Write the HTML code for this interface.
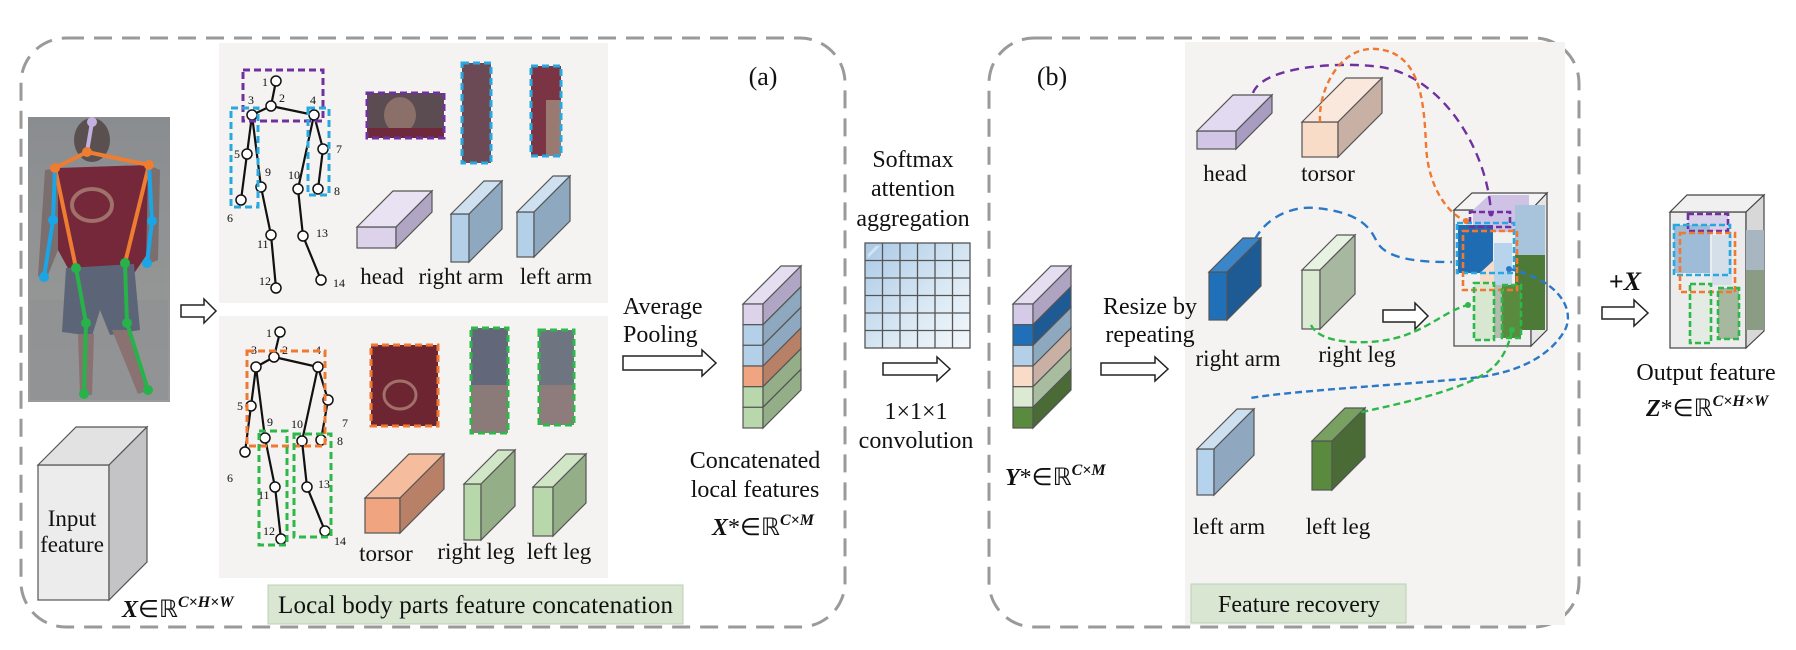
<!DOCTYPE html>
<html><head><meta charset="utf-8"><style>
html,body{margin:0;padding:0;background:#fff;}
svg{display:block;}
text{font-family:"Liberation Serif",serif;fill:#111;}
</style></head><body>
<svg width="1796" height="650" viewBox="0 0 1796 650" xmlns="http://www.w3.org/2000/svg">
<defs>
<linearGradient id="cell" x1="0" y1="0" x2="1" y2="1"><stop offset="0" stop-color="#a9c9e6"/><stop offset="0.6" stop-color="#dbe9f4"/><stop offset="1" stop-color="#f4f8fb"/></linearGradient>
<linearGradient id="bg" x1="0" y1="0" x2="0" y2="1"><stop offset="0" stop-color="#8a8d90"/><stop offset="1" stop-color="#9a9a98"/></linearGradient>
</defs>
<!-- dashed containers -->
<rect x="21" y="38" width="824" height="589" rx="45" fill="none" stroke="#9a9a9a" stroke-width="3" stroke-dasharray="18 10"/>
<rect x="989" y="38" width="590" height="589" rx="45" fill="none" stroke="#9a9a9a" stroke-width="3" stroke-dasharray="18 10"/>
<!-- gray panels -->
<rect x="219" y="43" width="389" height="260" fill="#f4f3f1"/>
<rect x="219" y="316" width="389" height="262" fill="#f4f3f1"/>
<rect x="1185" y="42" width="380" height="583" fill="#f4f3f1"/>
<!-- labels boxes -->
<rect x="268" y="585" width="415" height="39" fill="#d8e6d2" stroke="#bcd0b6"/>
<text x="278" y="613" font-size="25" textLength="395">Local body parts feature concatenation</text>
<rect x="1191" y="584" width="215" height="39" fill="#d8e6d2" stroke="#bcd0b6"/>
<text x="1299" y="612" font-size="24" text-anchor="middle">Feature recovery</text>
<text x="763" y="85" font-size="26" text-anchor="middle">(a)</text>
<text x="1052" y="85" font-size="26" text-anchor="middle">(b)</text>

<!-- photo -->
<rect x="28" y="117" width="142" height="285" fill="url(#bg)"/>
<rect x="30" y="300" width="138" height="100" fill="#8e9092" opacity="0.6"/>
<ellipse cx="92" cy="140" rx="18" ry="22" fill="#5a5050"/>
<path d="M58 168 L148 165 L150 250 L135 272 L70 272 L58 250 Z" fill="#74283a"/>
<ellipse cx="92" cy="205" rx="20" ry="16" fill="none" stroke="#a0706a" stroke-width="4"/>
<path d="M66 268 L134 264 L140 330 L110 335 L100 310 L92 336 L62 332 Z" fill="#5c6478"/>
<path d="M78 334 L94 334 L92 395 L80 395 Z M112 330 L130 330 L150 390 L138 394 Z" fill="#8a7272"/>
<path d="M45 170 L58 168 L58 250 L46 280 L38 276 Z M148 165 L160 170 L158 260 L146 265 Z" fill="#7a6e6e"/>
<g stroke-width="4" fill="none">
<line x1="92" y1="122" x2="87" y2="152" stroke="#c4b0e0"/>
<polyline points="55,168 87,152 149,165" stroke="#ee7d31"/>
<line x1="55" y1="168" x2="76" y2="268" stroke="#ee7d31"/>
<line x1="149" y1="165" x2="125" y2="263" stroke="#ee7d31"/>
<polyline points="55,168 53,220 44,277" stroke="#1aa5e6"/>
<polyline points="149,165 152,221 147,263" stroke="#1aa5e6"/>
<polyline points="76,268 86,323 84,394" stroke="#27b24a"/>
<polyline points="125,263 127,323 148,390" stroke="#27b24a"/>
</g>
<g>
<circle cx="92" cy="122" r="5" fill="#c4b0e0"/>
<circle cx="87" cy="152" r="5" fill="#ee7d31"/><circle cx="55" cy="168" r="5" fill="#ee7d31"/><circle cx="149" cy="165" r="5" fill="#ee7d31"/>
<circle cx="53" cy="220" r="5" fill="#1aa5e6"/><circle cx="44" cy="277" r="5" fill="#1aa5e6"/><circle cx="152" cy="221" r="5" fill="#1aa5e6"/><circle cx="147" cy="263" r="5" fill="#1aa5e6"/>
<circle cx="76" cy="268" r="5" fill="#27b24a"/><circle cx="125" cy="263" r="5" fill="#27b24a"/><circle cx="86" cy="323" r="5" fill="#27b24a"/><circle cx="127" cy="323" r="5" fill="#27b24a"/><circle cx="84" cy="394" r="5" fill="#27b24a"/><circle cx="148" cy="390" r="5" fill="#27b24a"/>
</g>

<!-- input cube -->
<g stroke="#555" stroke-width="1.2">
<rect x="38" y="465" width="71" height="135" fill="#ececec"/>
<polygon points="38,465 76,427 147,427 109,465" fill="#e2e2e2"/>
<polygon points="109,465 147,427 147,562 109,600" fill="#c4c4c6"/>
</g>
<text x="72" y="526" font-size="23" text-anchor="middle">Input</text>
<text x="72" y="552" font-size="23" text-anchor="middle">feature</text>
<text x="122" y="617" font-size="24"><tspan font-weight="bold" font-style="italic">X</tspan>∈ℝ<tspan font-size="16" dy="-10" font-weight="bold" font-style="italic">C×H×W</tspan></text>

<!-- hollow arrows -->
<g fill="#fff" stroke="#222" stroke-width="1.5">
<polygon points="181,305 204,305 204,299 216,311 204,323 204,317 181,317"/>
<polygon points="623,356 702,356 702,350 716,363 702,376 702,370 623,370"/>
<polygon points="883,363 937,363 937,357 950,369 937,381 937,375 883,375"/>
<polygon points="1101,363 1155,363 1155,357 1168,369 1155,381 1155,375 1101,375"/>
<polygon points="1383,310 1415,310 1415,303 1428,316 1415,329 1415,322 1383,322"/>
<polygon points="1602,307 1634,307 1634,300 1648,313 1634,326 1634,319 1602,319"/>
</g>

<!-- top skeleton -->
<g stroke="#111" stroke-width="2.2" fill="none">
<polyline points="276,81 271,106 252,115 247,154 241,200"/>
<polyline points="252,115 261,187 271,235 276,288"/>
<polyline points="271,106 314,115 298,189 303,236 321,280"/>
<polyline points="314,115 323,149 318,189"/>
</g>
<g fill="#fff" stroke="#111" stroke-width="1.5">
<circle cx="276" cy="81" r="5"/><circle cx="271" cy="106" r="5"/><circle cx="252" cy="115" r="5"/><circle cx="314" cy="115" r="5"/><circle cx="247" cy="154" r="5"/><circle cx="261" cy="187" r="5"/><circle cx="298" cy="189" r="5"/><circle cx="323" cy="149" r="5"/><circle cx="318" cy="189" r="5"/><circle cx="241" cy="200" r="5"/><circle cx="271" cy="235" r="5"/><circle cx="303" cy="236" r="5"/><circle cx="276" cy="288" r="5"/><circle cx="321" cy="280" r="5"/>
</g>
<g font-size="12">
<text x="262" y="86">1</text><text x="279" y="102">2</text><text x="248" y="104">3</text><text x="310" y="104">4</text><text x="234" y="158">5</text><text x="336" y="153">7</text><text x="265" y="176">9</text><text x="288" y="179">10</text><text x="334" y="195">8</text><text x="227" y="222">6</text><text x="257" y="248">11</text><text x="316" y="237">13</text><text x="259" y="285">12</text><text x="333" y="287">14</text>
</g>
<g fill="none" stroke-width="3" stroke-dasharray="7 4">
<rect x="243" y="70" width="80" height="51" stroke="#7030a0"/>
<rect x="231" y="108" width="27" height="99" stroke="#29a8e0"/>
<rect x="308" y="108" width="21" height="87" stroke="#29a8e0"/>
</g>
<!-- top crops -->
<rect x="367" y="93" width="77" height="45" fill="#5b4c52"/>
<ellipse cx="400" cy="115" rx="16" ry="18" fill="#8a7068"/>
<rect x="367" y="128" width="77" height="10" fill="#6e2a3a"/>
<rect x="462" y="63" width="29" height="100" fill="#6b4a55"/>
<rect x="531" y="66" width="30" height="90" fill="#7a3444"/>
<rect x="546" y="100" width="15" height="56" fill="#9a7a70"/>
<g fill="none" stroke-width="3" stroke-dasharray="7 4">
<rect x="367" y="93" width="77" height="45" stroke="#7030a0"/>
<rect x="462" y="63" width="29" height="100" stroke="#29a8e0"/>
<rect x="531" y="66" width="30" height="90" stroke="#29a8e0"/>
</g>
<!-- top cubes -->
<g stroke="#555" stroke-width="1.2">
<rect x="357" y="227" width="39" height="21" fill="#dcd3ea"/>
<polygon points="357,227 393,191 432,191 396,227" fill="#e8e2f2"/>
<polygon points="396,227 432,191 432,212 396,248" fill="#b0a6c4"/>
<rect x="451" y="214" width="18" height="48" fill="#b4d0e8"/>
<polygon points="451,214 484,181 502,181 469,214" fill="#cfe1f1"/>
<polygon points="469,214 502,181 502,229 469,262" fill="#8ea8c0"/>
<rect x="517" y="212" width="17" height="45" fill="#b4d0e8"/>
<polygon points="517,212 553,176 570,176 534,212" fill="#cfe1f1"/>
<polygon points="534,212 570,176 570,221 534,257" fill="#8ea8c0"/>
</g>
<g font-size="23" text-anchor="middle">
<text x="382" y="284">head</text><text x="461" y="284">right  arm</text><text x="556" y="284">left  arm</text>
</g>

<!-- bottom skeleton -->
<g stroke="#111" stroke-width="2.2" fill="none">
<polyline points="280,332 274,357 256,367 251,406 245,452"/>
<polyline points="256,367 265,438 275,487 281,539"/>
<polyline points="274,357 318,367 302,441 307,487 325,531"/>
<polyline points="318,367 328,400 321,440"/>
</g>
<g fill="#fff" stroke="#111" stroke-width="1.5">
<circle cx="280" cy="332" r="5"/><circle cx="274" cy="357" r="5"/><circle cx="256" cy="367" r="5"/><circle cx="318" cy="367" r="5"/><circle cx="251" cy="406" r="5"/><circle cx="245" cy="452" r="5"/><circle cx="265" cy="438" r="5"/><circle cx="302" cy="441" r="5"/><circle cx="328" cy="400" r="5"/><circle cx="321" cy="440" r="5"/><circle cx="275" cy="487" r="5"/><circle cx="307" cy="487" r="5"/><circle cx="281" cy="539" r="5"/><circle cx="325" cy="531" r="5"/>
</g>
<g font-size="12">
<text x="266" y="337">1</text><text x="282" y="354">2</text><text x="251" y="354">3</text><text x="315" y="354">4</text><text x="237" y="410">5</text><text x="342" y="427">7</text><text x="267" y="426">9</text><text x="291" y="428">10</text><text x="337" y="445">8</text><text x="227" y="482">6</text><text x="258" y="499">11</text><text x="318" y="488">13</text><text x="263" y="535">12</text><text x="334" y="545">14</text>
</g>
<g fill="none" stroke-width="3" stroke-dasharray="7 4">
<rect x="247" y="351" width="78" height="95" stroke="#f07830"/>
<rect x="259" y="431" width="28" height="114" stroke="#2eb84a"/>
<rect x="294" y="434" width="37" height="103" stroke="#2eb84a"/>
</g>
<rect x="371" y="345" width="67" height="81" fill="#6e2532"/>
<ellipse cx="400" cy="395" rx="16" ry="14" fill="none" stroke="#a0706a" stroke-width="3"/>
<rect x="471" y="328" width="37" height="105" fill="#62687a"/>
<rect x="471" y="385" width="37" height="48" fill="#8a7a78"/>
<rect x="539" y="330" width="35" height="95" fill="#6e7480"/>
<rect x="539" y="385" width="35" height="40" fill="#8e7c7c"/>
<g fill="none" stroke-width="3" stroke-dasharray="7 4">
<rect x="371" y="345" width="67" height="81" stroke="#f07830"/>
<rect x="471" y="328" width="37" height="105" stroke="#2eb84a"/>
<rect x="539" y="330" width="35" height="95" stroke="#2eb84a"/>
</g>
<g stroke="#555" stroke-width="1.2">
<rect x="365" y="498" width="35" height="35" fill="#f0a580"/>
<polygon points="365,498 409,454 444,454 400,498" fill="#f5bd9e"/>
<polygon points="400,498 444,454 444,489 400,533" fill="#b98068"/>
<rect x="464" y="484" width="17" height="56" fill="#b8d8ac"/>
<polygon points="464,484 498,450 515,450 481,484" fill="#d0e6c6"/>
<polygon points="481,484 515,450 515,506 481,540" fill="#94ae88"/>
<rect x="533" y="487" width="20" height="49" fill="#b8d8ac"/>
<polygon points="533,487 566,454 586,454 553,487" fill="#d0e6c6"/>
<polygon points="553,487 586,454 586,503 553,536" fill="#94ae88"/>
</g>
<g font-size="23" text-anchor="middle">
<text x="386" y="561">torsor</text><text x="476" y="559">right  leg</text><text x="559" y="559">left  leg</text>
</g>

<!-- average pooling -->
<text x="623" y="314" font-size="24">Average</text>
<text x="623" y="342" font-size="24">Pooling</text>
<!-- X stack -->
<g stroke="#555" stroke-width="1.2">
<polygon points="743,304 781,266 801,266 763,304" fill="#e4def0"/>
<rect x="743" y="304" width="20" height="20.7" fill="#dcd3ea"/><polygon points="763,304 801,266 801,286.7 763,324.7" fill="#b0a6c4"/>
<rect x="743" y="324.7" width="20" height="20.7" fill="#b4d0e8"/><polygon points="763,324.7 801,286.7 801,307.3 763,345.3" fill="#8ea8c0"/>
<rect x="743" y="345.3" width="20" height="20.7" fill="#b4d0e8"/><polygon points="763,345.3 801,307.3 801,328 763,366" fill="#8ea8c0"/>
<rect x="743" y="366" width="20" height="20.7" fill="#f0a580"/><polygon points="763,366 801,328 801,348.7 763,386.7" fill="#b98068"/>
<rect x="743" y="386.7" width="20" height="20.7" fill="#b8d8ac"/><polygon points="763,386.7 801,348.7 801,369.3 763,407.3" fill="#94ae88"/>
<rect x="743" y="407.3" width="20" height="20.7" fill="#b8d8ac"/><polygon points="763,407.3 801,369.3 801,390 763,428" fill="#94ae88"/>
</g>
<g font-size="24" text-anchor="middle">
<text x="755" y="468">Concatenated</text>
<text x="755" y="497">local  features</text>
</g>
<text x="712" y="535" font-size="24"><tspan font-weight="bold" font-style="italic">X</tspan>*∈ℝ<tspan font-size="16" dy="-10" font-weight="bold" font-style="italic">C×M</tspan></text>

<!-- softmax -->
<g font-size="24" text-anchor="middle">
<text x="913" y="167">Softmax</text><text x="913" y="196">attention</text><text x="913" y="226">aggregation</text>
<text x="916" y="419">1×1×1</text><text x="916" y="448">convolution</text>
</g>
<g stroke="#555" stroke-width="1.3">
<rect x="865" y="243" width="105" height="105" fill="url(#cell)"/>
</g>
<g stroke="#555" stroke-width="1.3" fill="none">
<path d="M882.5 243V348M900 243V348M917.5 243V348M935 243V348M952.5 243V348M865 260.5H970M865 278H970M865 295.5H970M865 313H970M865 330.5H970"/>
</g>
<g fill="#fff" opacity="0.45">
<path d="M868 258 l12 -12 h-4 l-8 8z"/>
</g>

<!-- Y stack -->
<g stroke="#555" stroke-width="1.2">
<polygon points="1013,304 1051,266 1071,266 1033,304" fill="#e4def0"/>
<rect x="1013" y="304" width="20" height="20.7" fill="#d5cae8"/><polygon points="1033,304 1071,266 1071,286.7 1033,324.7" fill="#aea4c2"/>
<rect x="1013" y="324.7" width="20" height="20.7" fill="#1f70b8"/><polygon points="1033,324.7 1071,286.7 1071,307.3 1033,345.3" fill="#1e5a94"/>
<rect x="1013" y="345.3" width="20" height="20.7" fill="#b4d0e8"/><polygon points="1033,345.3 1071,307.3 1071,328 1033,366" fill="#8ea8c0"/>
<rect x="1013" y="366" width="20" height="20.7" fill="#f8dcc8"/><polygon points="1033,366 1071,328 1071,348.7 1033,386.7" fill="#c8b0a4"/>
<rect x="1013" y="386.7" width="20" height="20.7" fill="#dcead4"/><polygon points="1033,386.7 1071,348.7 1071,369.3 1033,407.3" fill="#a8bca0"/>
<rect x="1013" y="407.3" width="20" height="20.7" fill="#5a8a3e"/><polygon points="1033,407.3 1071,369.3 1071,390 1033,428" fill="#4a6a36"/>
</g>
<text x="1005" y="485" font-size="24"><tspan font-weight="bold" font-style="italic">Y</tspan>*∈ℝ<tspan font-size="16" dy="-10" font-weight="bold" font-style="italic">C×M</tspan></text>
<g font-size="24" text-anchor="middle">
<text x="1150" y="314">Resize  by</text><text x="1150" y="342">repeating</text>
</g>

<!-- B cubes -->
<g stroke="#555" stroke-width="1.2">
<rect x="1197" y="131" width="39" height="18" fill="#d2c6e6"/>
<polygon points="1197,131 1233,95 1272,95 1236,131" fill="#e2daf0"/>
<polygon points="1236,131 1272,95 1272,113 1236,149" fill="#a89cc0"/>
<rect x="1302" y="122" width="36" height="35" fill="#f8dcc8"/>
<polygon points="1302,122 1346,78 1382,78 1338,122" fill="#fbe8dc"/>
<polygon points="1338,122 1382,78 1382,113 1338,157" fill="#c8b0a4"/>
<rect x="1209" y="272" width="18" height="48" fill="#1f70b8"/>
<polygon points="1209,272 1243,238 1261,238 1227,272" fill="#3a86c8"/>
<polygon points="1227,272 1261,238 1261,286 1227,320" fill="#1e5a94"/>
<rect x="1302" y="270" width="18" height="59" fill="#dcead4"/>
<polygon points="1302,270 1337,235 1355,235 1320,270" fill="#e8f2e2"/>
<polygon points="1320,270 1355,235 1355,294 1320,329" fill="#a8b8a0"/>
<rect x="1197" y="449" width="17" height="46" fill="#b5d3ec"/>
<polygon points="1197,449 1237,409 1254,409 1214,449" fill="#cde0f0"/>
<polygon points="1214,449 1254,409 1254,455 1214,495" fill="#8fa8c0"/>
<rect x="1312" y="441" width="20" height="49" fill="#5a8a3e"/>
<polygon points="1312,441 1345,408 1365,408 1332,441" fill="#78a060"/>
<polygon points="1332,441 1365,408 1365,457 1332,490" fill="#4a6a36"/>
</g>
<g font-size="23" text-anchor="middle">
<text x="1225" y="181">head</text><text x="1328" y="181">torsor</text>
<text x="1238" y="366">right  arm</text><text x="1357" y="362">right  leg</text>
<text x="1229" y="534">left  arm</text><text x="1338" y="534">left  leg</text>
</g>

<!-- composite block -->
<g>
<rect x="1454" y="210" width="77" height="136" fill="#f0f0f0" stroke="#444" stroke-width="1.2"/>
<polygon points="1454,210 1472,193 1547,193 1531,210" fill="#f4f4f4" stroke="#444" stroke-width="1.2"/>
<polygon points="1531,210 1547,193 1547,330 1531,346" fill="#e6e6e6" stroke="#444" stroke-width="1.2"/>
<polygon points="1473,210 1489,195 1529,195 1529,225 1513,232 1473,232" fill="#cfc2e4"/>
<rect x="1515" y="205" width="30" height="52" fill="#a8c4dc"/>
<rect x="1515" y="255" width="30" height="75" fill="#4e7a38"/>
<rect x="1458" y="225" width="35" height="48" fill="#1f6cb2"/>
<polygon points="1480,273 1494,260 1494,287 1480,287" fill="#f6dccb"/>
<rect x="1494" y="243" width="18" height="45" fill="#b8d4ec"/>
<rect x="1474" y="285" width="20" height="55" fill="#d8e8d0"/>
<rect x="1494" y="285" width="8" height="53" fill="#b4bcb0"/>
<rect x="1502" y="285" width="19" height="53" fill="#5a8a3e"/>
<g fill="none" stroke-width="2.6" stroke-dasharray="6 3">
<rect x="1470" y="212" width="40" height="15" stroke="#7030a0"/>
<rect x="1457" y="223" width="57" height="50" stroke="#29a8e0"/>
<rect x="1463" y="231" width="54" height="59" stroke="#f07830"/>
<rect x="1474" y="283" width="20" height="57" stroke="#2eb84a"/>
<rect x="1502" y="285" width="19" height="53" stroke="#2eb84a"/>
</g>
</g>
<!-- connectors -->
<g fill="none" stroke-width="2.4" stroke-dasharray="9 6">
<path d="M1253 93 C1262 68 1330 62 1372 66 C1440 70 1488 150 1491 214" stroke="#7030a0"/>
<path d="M1320 122 C1318 90 1340 46 1376 49 C1420 52 1424 100 1426 145 C1428 190 1450 215 1466 221" stroke="#f07830" stroke-dasharray="6 4"/>
<path d="M1255 239 C1270 212 1300 206 1315 208 C1360 212 1370 228 1376 240 C1385 262 1430 262 1452 262" stroke="#2a78c8"/>
<path d="M1311 325 C1318 340 1345 343 1368 342 C1420 340 1440 312 1468 305" stroke="#2eb84a" stroke-dasharray="7 4"/>
<path d="M1509 269 C1560 280 1575 310 1565 330 C1545 365 1500 375 1472 378 C1400 385 1300 390 1250 398" stroke="#2a78c8" stroke-dasharray="7 4"/>
<path d="M1512 330 C1508 350 1500 362 1490 370 C1470 386 1420 400 1357 413" stroke="#2eb84a" stroke-dasharray="7 4"/>
</g>
<g>
<circle cx="1491" cy="214" r="2.5" fill="#7030a0"/><circle cx="1466" cy="221" r="3" fill="#f07830"/><circle cx="1509" cy="269" r="3" fill="#2a78c8"/><circle cx="1468" cy="305" r="3" fill="#2eb84a"/><circle cx="1512" cy="330" r="3" fill="#2eb84a"/>
</g>

<!-- output block -->
<text x="1625" y="290" font-size="26" text-anchor="middle" font-weight="bold"><tspan font-weight="bold">+</tspan><tspan font-style="italic">X</tspan></text>
<rect x="1670" y="212" width="76" height="136" fill="#ececec" stroke="#444" stroke-width="1.2"/>
<polygon points="1670,212 1687,195 1764,195 1746,212" fill="#f0f0f0" stroke="#444" stroke-width="1.2"/>
<polygon points="1746,212 1764,195 1764,331 1746,348" fill="#d8d8d8" stroke="#444" stroke-width="1.2"/>
<rect x="1688" y="214" width="40" height="17" fill="#d8d0e8"/>
<rect x="1674" y="225" width="36" height="48" fill="#9ebcd8"/>
<rect x="1712" y="235" width="20" height="50" fill="#d4dfea"/>
<rect x="1746" y="230" width="18" height="40" fill="#a8b6c2"/>
<rect x="1746" y="270" width="18" height="60" fill="#8a9c84"/>
<rect x="1690" y="284" width="21" height="59" fill="#e4ebe2"/>
<rect x="1718" y="288" width="21" height="51" fill="#a6b8a0"/>
<g fill="none" stroke-width="2.6" stroke-dasharray="6 3">
<rect x="1688" y="214" width="40" height="17" stroke="#7030a0"/>
<rect x="1674" y="225" width="56" height="50" stroke="#29a8e0"/>
<rect x="1680" y="233" width="55" height="59" stroke="#f07830"/>
<rect x="1690" y="284" width="21" height="59" stroke="#2eb84a"/>
<rect x="1718" y="288" width="21" height="51" stroke="#2eb84a"/>
</g>
<text x="1706" y="380" font-size="24" text-anchor="middle">Output  feature</text>
<text x="1646" y="416" font-size="24"><tspan font-weight="bold" font-style="italic">Z</tspan>*∈ℝ<tspan font-size="16" dy="-10" font-weight="bold" font-style="italic">C×H×W</tspan></text>
</svg>
</body></html>
